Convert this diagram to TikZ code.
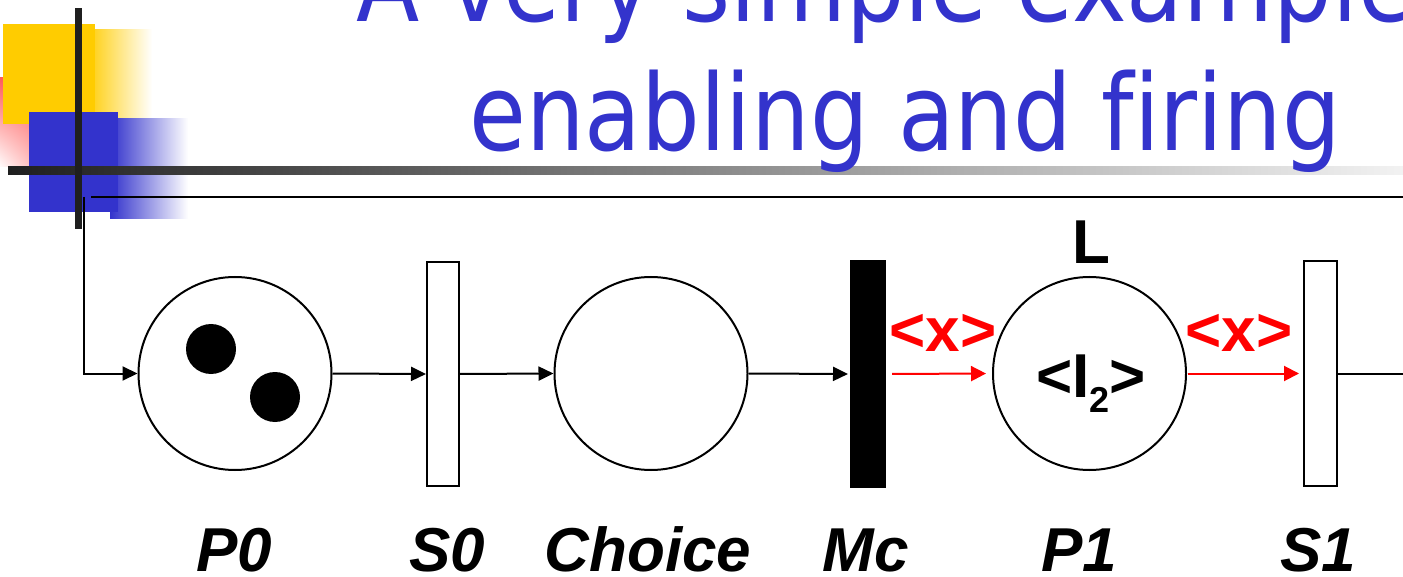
\documentclass[tikz,border=0pt]{standalone}
\usepackage{fontspec}
\setmainfont{Liberation Sans}
\newfontfamily\titlefont[FakeStretch=0.872,Ligatures=NoCommon]{DejaVu Sans}
\usetikzlibrary{arrows.meta,shadings}
\definecolor{titleblue}{HTML}{3333CC}
\definecolor{decoyellow}{HTML}{FFCC00}
\definecolor{decodark}{HTML}{1F1F1F}
\definecolor{barlight}{HTML}{F2F2F2}
\definecolor{netred}{HTML}{FF0000}
\definecolor{decored}{HTML}{FF5C5C}
\definecolor{decopink}{HTML}{FF8C8C}
\begin{document}
\begin{tikzpicture}[x=1pt,y=-1pt,
  place/.style={circle,draw=black,line width=2pt,minimum size=193pt,inner sep=0pt},
  trans/.style={rectangle,draw=black,line width=2pt,minimum width=32pt,minimum height=224pt,inner sep=0pt},
  token/.style={circle,fill=black,minimum size=50pt,inner sep=0pt},
  arc/.style={line width=2pt,-{Triangle[length=15pt,width=14pt]}},
  redarc/.style={line width=2pt,draw=netred,-{Triangle[length=15pt,width=15pt]},color=netred},
  lbl/.style={font=\fontsize{62}{70}\selectfont\bfseries\itshape,anchor=base,inner sep=0pt},
  plainlbl/.style={font=\fontsize{62}{70}\selectfont\bfseries,anchor=base,inner sep=0pt},
  redlbl/.style={font=\fontsize{62}{70}\selectfont\bfseries,text=netred,anchor=base,inner sep=0pt},
  titletext/.style={font=\titlefont\fontsize{106}{120}\selectfont,text=titleblue,inner sep=0pt}
]
\useasboundingbox (0,0) rectangle (1403,577);
\begin{scope}
\clip (0,0) rectangle (1403,577);
% decoration
\shade[upper left=decored,upper right=decored,lower left=white,lower right=decopink] (-2,78) rectangle (60,167);
\fill[decoyellow] (3,24) rectangle (95,124);
\shade[left color=decoyellow!85!white,right color=white] (95,30) rectangle (152,118);
\shade[left color=titleblue,right color=white] (110,119) rectangle (188,219);
\fill[titleblue] (29,112) rectangle (118,212);
\shade[left color=decodark,right color=barlight] (8,167) rectangle (1403,175);
\fill[decodark] (75,8) rectangle (82,229);
\draw[line width=2pt] (91,197) -- (1403,197);
% title
\node[titletext,anchor=base west] (title1) at (356,22) {A very simple example};
\node[titletext,anchor=base] (title2) at (905,151) {enabling and f\kern0pt iring};
\end{scope}
% net
\node[place] (P0) at (235,373.5) {};
\node[token] (tok1) at (211,349) {};
\node[token] (tok2) at (275,397) {};
\node[trans] (S0) at (443,374) {};
\node[place] (Choice) at (651,373.5) {};
\node[trans,fill=black,minimum width=34pt,minimum height=226pt] (Mc) at (868,374) {};
\node[place] (P1) at (1089.5,373.5) {};
\node[trans,minimum width=33pt] (S1) at (1320.5,373.5) {};
\coordinate (entry) at (84,197);
\coordinate (exit) at (1403,373.5);
\draw[arc] (entry) |- (P0.west);
\draw[arc] (P0.east) -- (S0.west);
\draw[arc] (S0.east) -- (Choice.west);
\draw[arc,shorten >=2pt] (Choice.east) -- (Mc.west);
\draw[redarc,shorten <=6pt,shorten >=6pt] (Mc.east) -- (P1.west);
\draw[redarc,shorten <=1pt,shorten >=4pt] (P1.east) -- (S1.west);
\draw[line width=2pt] (S1.east) -- (exit);
% labels
\node[redlbl] (x1) at (943,352) {<x>};
\node[redlbl] (x2) at (1239,352) {<x>};
\node[plainlbl] (L) at (1091,264) {L};
\node[plainlbl] (I2) at (1091,397) {<I\raisebox{-15pt}{\fontsize{36}{40}\selectfont 2}>};
\node[lbl] (lP0) at (234,571) {P0};
\node[lbl] (lS0) at (447,571) {S0};
\node[lbl] (lChoice) at (648,571) {Choice};
\node[lbl] (lMc) at (866,571) {Mc};
\node[lbl] (lP1) at (1079,571) {P1};
\node[lbl] (lS1) at (1318,571) {S1};
\end{tikzpicture}
\end{document}
